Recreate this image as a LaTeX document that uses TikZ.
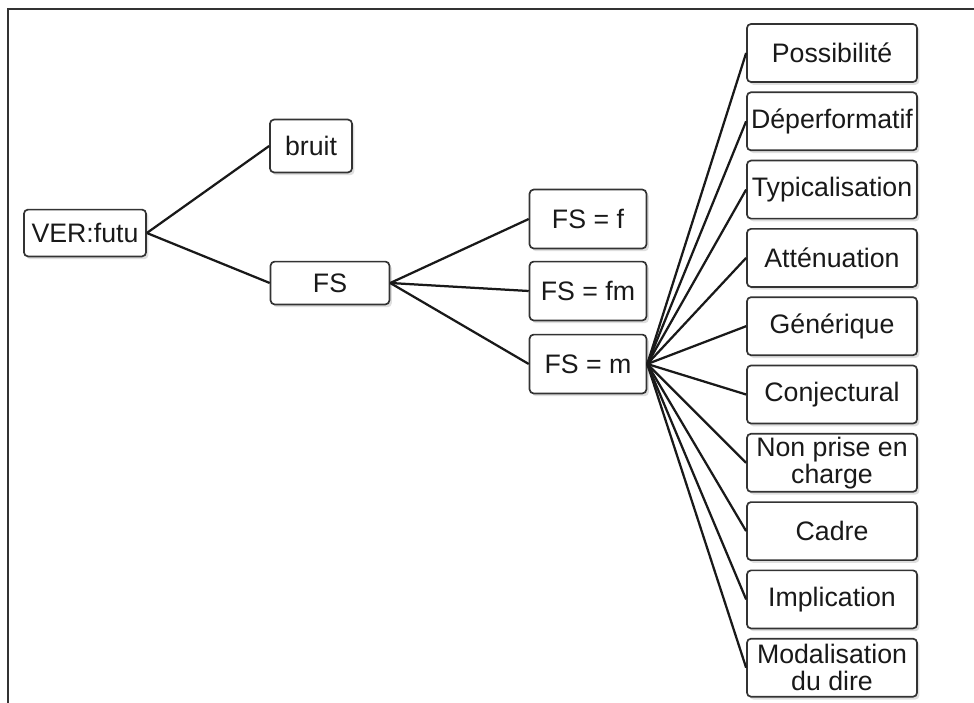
\documentclass[tikz,border=0pt]{standalone}
\usepackage{fontspec}
\setmainfont{Liberation Sans}
\usetikzlibrary{shadows}

\begin{document}
\begin{tikzpicture}[x = 0.025cm, y = -0.025cm]
	\tikzstyle{boxStyle}=[shape = rectangle, rounded corners = 0.1cm, draw = black!80, line width = 1.2pt, fill = white, inner sep = 0pt, align = center, text = black!90, font = \fontsize{19}{19}\selectfont, drop shadow = {opacity = 0.25, shadow xshift = 0.06cm, shadow yshift = -0.07cm}]
	\tikzstyle{rightStyle}=[boxStyle, minimum width = 4.25cm, minimum height = 1.45cm]
	\tikzstyle{midStyle}=[boxStyle, minimum width = 2.92cm, minimum height = 1.47cm]
	\tikzstyle{edgeStyle}=[line width = 1.6pt, black!90]
	\useasboundingbox (0,0) rectangle (974,703);
	\draw[line width = 0.8pt, black!80] (8,703) -- (8,9) -- (974,9);
	\node[boxStyle, minimum width = 3.05cm, minimum height = 1.17cm] (v0) at (85,233) {VER:futu};
	\node[boxStyle, minimum width = 2.05cm, minimum height = 1.32cm] (v1) at (311,146) {bruit};
	\node[boxStyle, minimum width = 2.97cm, minimum height = 1.07cm] (v2) at (330,283) {FS};
	\node[midStyle] (v3) at (588,219) {FS = f};
	\node[midStyle] (v4) at (588,291) {FS = fm};
	\node[midStyle] (v5) at (588,364) {FS = m};
	\node[rightStyle] (v6) at (832,53) {Possibilité};
	\node[rightStyle] (v7) at (832,121.3) {Déperformatif};
	\node[rightStyle] (v8) at (832,189.6) {Typicalisation};
	\node[rightStyle] (v9) at (832,257.9) {Atténuation};
	\node[rightStyle] (v10) at (832,326.2) {Générique};
	\node[rightStyle] (v11) at (832,394.5) {Conjectural};
	\node[rightStyle] (v12) at (832,462.8) {Non prise en\\charge};
	\node[rightStyle] (v13) at (832,531.1) {Cadre};
	\node[rightStyle] (v14) at (832,599.4) {Implication};
	\node[rightStyle] (v15) at (832,667.7) {Modalisation\\du dire};
	\draw[edgeStyle] (v0.east) -- (v1.west);
	\draw[edgeStyle] (v0.east) -- (v2.west);
	\draw[edgeStyle] (v2.east) -- (v3.west);
	\draw[edgeStyle] (v2.east) -- (v4.west);
	\draw[edgeStyle] (v2.east) -- (v5.west);
	\draw[edgeStyle] (v5.east) -- (v6.west);
	\draw[edgeStyle] (v5.east) -- (v7.west);
	\draw[edgeStyle] (v5.east) -- (v8.west);
	\draw[edgeStyle] (v5.east) -- (v9.west);
	\draw[edgeStyle] (v5.east) -- (v10.west);
	\draw[edgeStyle] (v5.east) -- (v11.west);
	\draw[edgeStyle] (v5.east) -- (v12.west);
	\draw[edgeStyle] (v5.east) -- (v13.west);
	\draw[edgeStyle] (v5.east) -- (v14.west);
	\draw[edgeStyle] (v5.east) -- (v15.west);
\end{tikzpicture}
\end{document}
